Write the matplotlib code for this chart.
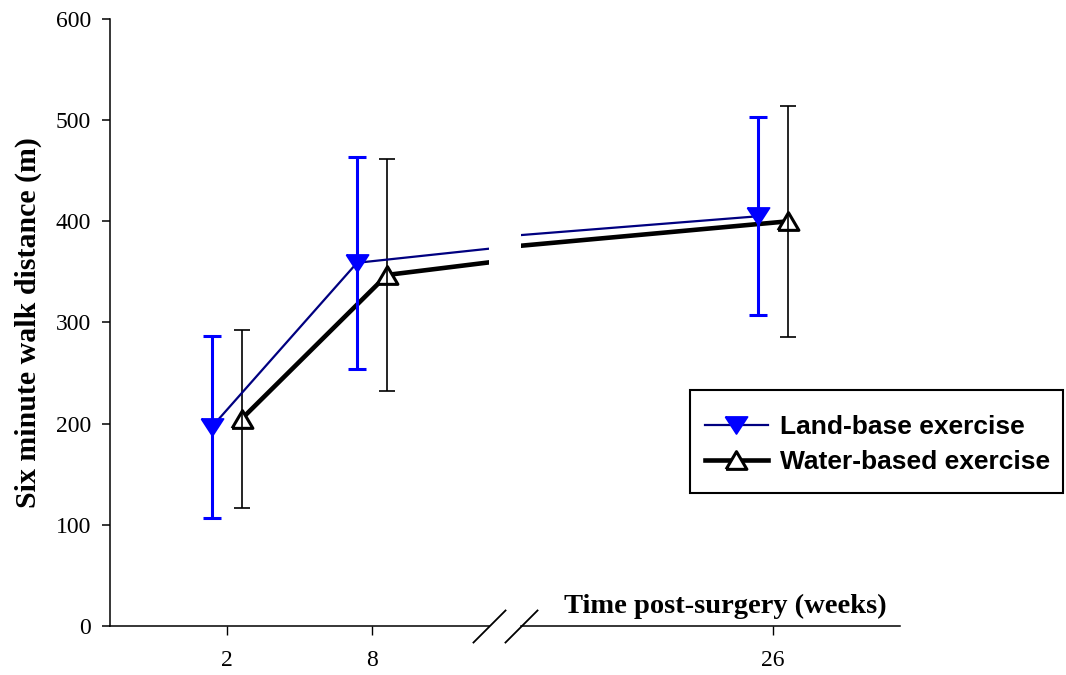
import matplotlib
matplotlib.use("Agg")
import matplotlib.pyplot as plt
from matplotlib.patches import Rectangle
from matplotlib.transforms import offset_copy

plt.rcParams['font.family'] = 'Liberation Serif'

# data
weeks = [2, 8, 26]
land_mean = [197, 359, 405]
land_err = [90, 105, 98]
water_mean = [205, 347, 400]
water_err = [88, 115, 114]

W, H = 1066, 675
fig = plt.figure(figsize=(W / 100, H / 100), dpi=100)
ax1 = fig.add_axes([110 / W, 49 / H, 379 / W, 607 / H])
ax2 = fig.add_axes([521 / W, 49 / H, 379 / W, 607 / H])

# wide, flat triangles like the original markers (closed paths)
land_verts = [(-1, 0.77), (1, 0.77), (0, -0.77), (-1, 0.77)]
water_verts = [(-1, -0.85), (1, -0.85), (0, 0.85), (-1, -0.85)]

handles = []
for ax in (ax1, ax2):
    tr_land = offset_copy(ax.transData, fig=fig, x=-15, y=0, units='dots')
    tr_water = offset_copy(ax.transData, fig=fig, x=15, y=0, units='dots')

    ax.errorbar(weeks, water_mean, yerr=water_err, fmt='none', ecolor='black',
                elinewidth=1.2, capsize=6, capthick=1.2, transform=tr_water, zorder=4)
    hw, = ax.plot(weeks, water_mean, color='black', lw=3.3, marker=water_verts,
                  ms=15, mfc='white', mec='black', mew=2.2, transform=tr_water,
                  zorder=3, label='Water-based exercise')
    ax.errorbar(weeks, land_mean, yerr=land_err, fmt='none', ecolor='#0000ff',
                elinewidth=2.2, capsize=6.5, capthick=2.2, transform=tr_land, zorder=5)
    hl, = ax.plot(weeks, land_mean, color='#000080', lw=1.6, marker=land_verts,
                  ms=16, mfc='#0000ff', mec='#0000ff', mew=1.2, transform=tr_land,
                  zorder=6, label='Land-base exercise')
    handles = [hl, hw]

    ax.set_ylim(0, 600)
    for s in ('top', 'right'):
        ax.spines[s].set_visible(False)
    ax.spines['bottom'].set_linewidth(1.1)
    ax.tick_params(axis='x', direction='out', length=6.5, width=1, pad=11,
                   labelsize=17)

ax1.set_xlim(-2.84, 12.84)
ax2.set_xlim(18.27, 29.9)
ax1.set_xticks([2, 8])
ax2.set_xticks([26])

ax1.spines['left'].set_linewidth(1.1)
ax1.set_yticks([0, 100, 200, 300, 400, 500, 600])
ax1.tick_params(axis='y', direction='out', length=5.8, width=1.1, pad=8,
                labelsize=17)
ax1.set_ylabel('Six minute walk distance (m)', fontsize=21.5, fontweight='bold',
               labelpad=10)

ax2.spines['left'].set_visible(False)
ax2.tick_params(axis='y', left=False, labelleft=False)

# break marks on the x axis
for ax, xpos in ((ax1, 1), (ax2, 0)):
    ax.plot([xpos], [0], transform=ax.transAxes, marker=[(-1, -1), (1, 1)],
            ms=24, mew=1.3, color='black', linestyle='none', clip_on=False)

fig.text(887 / W, (H - 613) / H, 'Time post-surgery (weeks)',
         ha='right', va='baseline', fontsize=20.5, fontweight='bold')

# legend without its own frame; the box is drawn separately
leg = fig.legend(handles=handles, loc='upper left',
                 bbox_to_anchor=(685 / W, 1 - 395 / H),
                 prop={'family': 'Liberation Sans', 'weight': 'bold', 'size': 19},
                 numpoints=1, handlelength=2.4, handletextpad=0.45,
                 borderpad=0.75, labelspacing=0.42, frameon=False,
                 borderaxespad=0)
fig.patches.append(Rectangle((690 / W, 1 - 493 / H), 373 / W, 103 / H,
                             transform=fig.transFigure, fill=False,
                             edgecolor='black', linewidth=1.5))

fig.savefig('out.png', dpi=100)
